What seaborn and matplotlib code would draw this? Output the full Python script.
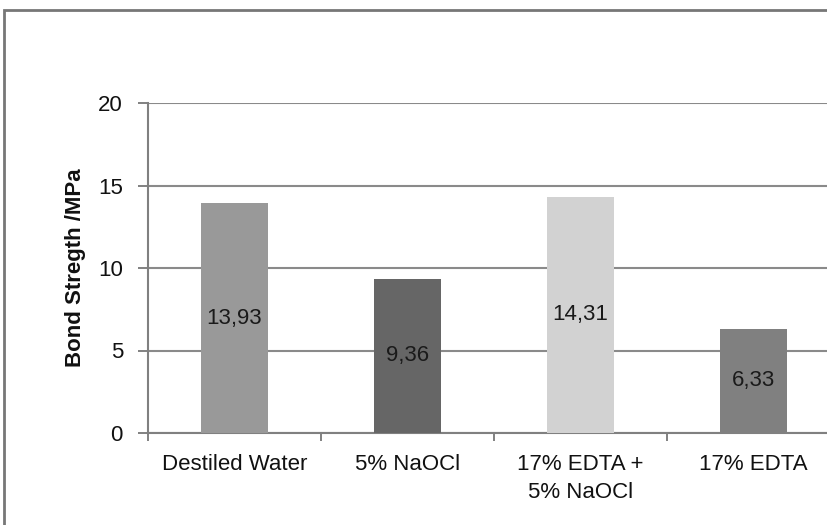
import matplotlib
matplotlib.use("Agg")
import matplotlib.pyplot as plt
import seaborn as sns
import pandas as pd
from matplotlib.patches import Rectangle

groups = ["Destiled Water", "5% NaOCl", "17% EDTA +\n5% NaOCl", "17% EDTA"]
strength = [13.93, 9.36, 14.31, 6.33]
bar_colors = ["#999999", "#666666", "#d2d2d2", "#808080"]
y_ticks = [0, 5, 10, 15, 20]

df = pd.DataFrame({"group": groups, "strength": strength})

sns.set_style("white")
plt.rcParams['font.family'] = ['Liberation Sans', 'DejaVu Sans']

fig = plt.figure(figsize=(8.28, 5.25), dpi=100)
ax = fig.add_axes([148 / 828, 92 / 525, 692 / 828, 330 / 525])

sns.barplot(data=df, x="group", y="strength", hue="group", palette=bar_colors,
            width=0.39, saturation=1, legend=False, ax=ax, zorder=3,
            linewidth=0, edgecolor="none")

# value labels in the middle of each bar
for i, v in enumerate(strength):
    ax.text(i, v / 2, f"{v:.2f}".replace(".", ","), ha="center", va="center",
            fontsize=16, color="#1a1a1a", zorder=4)

ax.set_xlim(-0.5, 3.5)
ax.set_ylim(0, 20)
ax.set_yticks(y_ticks)
ax.yaxis.grid(True, color="#8a8a8a", linewidth=1.5, zorder=0)
ax.set_axisbelow(True)

# x ticks at category boundaries, labels at centres
ax.set_xticks(range(len(groups)))
ax.set_xticks([-0.5, 0.5, 1.5, 2.5, 3.5], minor=True)
ax.tick_params(axis="x", which="major", length=0, pad=15, labelsize=16, colors="#111111")
ax.tick_params(axis="x", which="minor", length=6, width=1.3, color="#777777", direction="out")
ax.tick_params(axis="y", length=7, width=1.3, color="#777777", direction="out",
               pad=11, labelsize=16, labelcolor="#111111")
ax.tick_params(axis="y", left=True)
ax.tick_params(axis="x", which="minor", bottom=True)
for lab in ax.get_xticklabels():
    lab.set_linespacing(1.45)

ax.set_xlabel("")
ax.set_ylabel("Bond Stregth /MPa", fontsize=16, fontweight="bold", color="#111111", labelpad=9)

for side in ["top", "right"]:
    ax.spines[side].set_visible(False)
for side in ["left", "bottom"]:
    ax.spines[side].set_color("#808080")
    ax.spines[side].set_linewidth(1.5)

# outer chart frame, cut off on the right and bottom
fig.patches.append(Rectangle((4 / 828, -0.1), 1.2, (525 - 10) / 525 + 0.1,
                             transform=fig.transFigure, fill=False,
                             edgecolor="#777777", linewidth=2))

fig.savefig("out.png", dpi=100)
